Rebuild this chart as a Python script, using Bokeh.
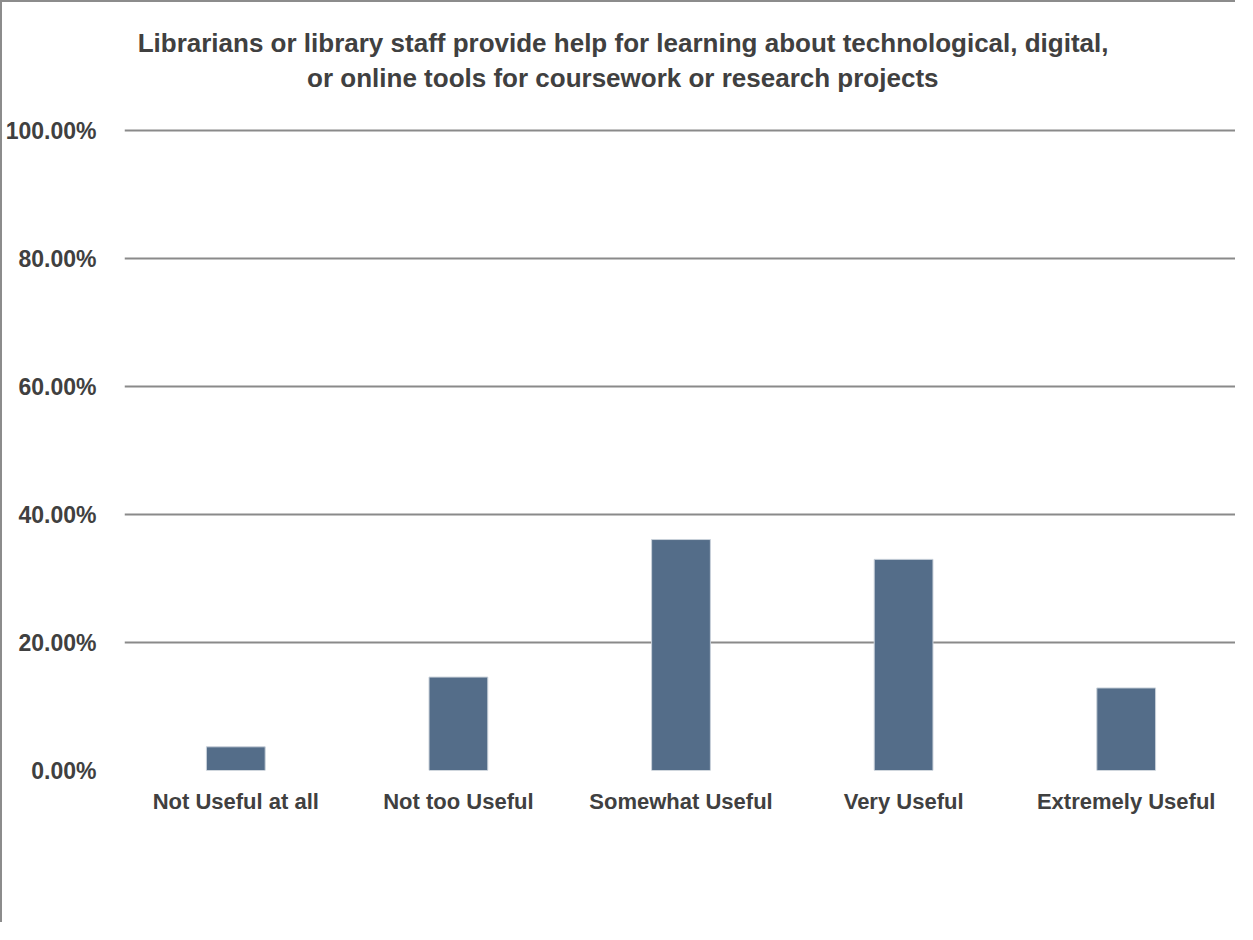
from bokeh.plotting import figure
from bokeh.models import Title, NumeralTickFormatter, FixedTicker, Range1d
from bokeh.embed import file_html
from bokeh.resources import INLINE

categories = ["Not Useful at all", "Not too Useful", "Somewhat Useful", "Very Useful", "Extremely Useful"]
values = [0.037, 0.146, 0.361, 0.330, 0.129]
title_lines = ["Librarians or library staff provide help for learning about technological, digital,",
               "or online tools for coursework or research projects"]
y_ticks = [0.0, 0.2, 0.4, 0.6, 0.8, 1.0]

FONT = "Liberation Sans"
TXT = "#404040"

p = figure(x_range=categories, y_range=Range1d(0, 1.005), width=1235, height=922,
           output_backend="svg", toolbar_location=None,
           min_border_left=122, min_border_right=0, min_border_top=125, min_border_bottom=154)
p.styles = {"border-left": "2px solid #8c8c8c", "border-top": "2px solid #8c8c8c"}
p.outline_line_color = None

p.vbar(x=categories, top=values, width=0.264, fill_color="#546d89", line_color="#c9d1da", line_width=1)

p.xgrid.grid_line_color = None
p.ygrid.grid_line_color = "#8a8a8a"
p.ygrid.grid_line_width = 2
p.yaxis.ticker = FixedTicker(ticks=y_ticks)
p.yaxis.formatter = NumeralTickFormatter(format="0.00%")

for ax in (p.xaxis, p.yaxis):
    ax.axis_line_color = None
    ax.major_tick_line_color = None
    ax.minor_tick_line_color = None
    ax.major_tick_out = 0
    ax.major_tick_in = 0
    ax.major_label_text_font = FONT
    ax.major_label_text_font_style = "bold"
    ax.major_label_text_color = TXT
p.yaxis.major_label_text_font_size = "23px"
p.xaxis.major_label_text_font_size = "22px"
p.yaxis.major_label_standoff = 28
p.xaxis.major_label_standoff = 18

# second line first: first title added sits closest to the plot
p.add_layout(Title(text=title_lines[1], align="right", offset=299, text_font=FONT,
                   text_font_style="bold", text_font_size="26px", text_color=TXT,
                   standoff=0, padding=dict(top=0, right=0, bottom=35, left=0)), "above")
p.add_layout(Title(text=title_lines[0], align="right", offset=129, text_font=FONT,
                   text_font_style="bold", text_font_size="26px", text_color=TXT, standoff=6), "above")

open("out.html", "w").write(file_html(p, INLINE))
